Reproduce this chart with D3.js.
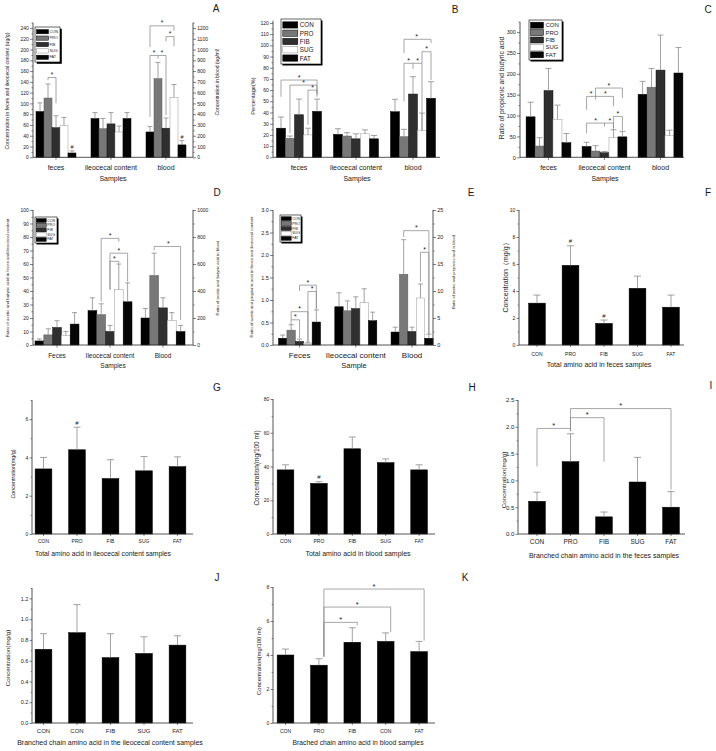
<!DOCTYPE html>
<html><head><meta charset="utf-8">
<script src="https://cdn.jsdelivr.net/npm/d3@7/dist/d3.min.js"></script>
<style>body{margin:0;background:#fff}svg{display:block}</style>
</head><body>
<svg id="chart" width="716" height="751"></svg>
<script>
// ================= DATA =================
const series = ["CON","PRO","FIB","SUG","FAT"];

// Panel A
const groupsA = ["feces","ileocecal content","blood"];
const meanA = [[85,110,55,59,8],[72,53,62,47,72],[235,730,270,555,115]];
const sdA   = [[16,26,22,15,4],[11,19,21,11,11],[50,150,95,120,40]];
const hashA = [[0,0,0,0,1],[0,0,0,0,0],[0,0,0,0,1]];
const rightA = [false,false,true];
const ticksA = [0,20,40,60,80,100,120,140,160,180,200,220,240];
const ticksAR = [0,100,200,300,400,500,600,700,800,900,1000,1100,1200];
const bracketsA = [
  {g:0, xs:[1,2], y:148, legs:[143,100], stars:[1.5]},
  {g:2, xs:[0,3], y:244, legs:[205,235], stars:[1.5]},
  {g:2, xs:[2,3], y:224, legs:[215,206], stars:[2.5]},
  {g:2, xs:[0,1,2], y:189, legs:[75,183,78], stars:[0.5,1.5]}
];

// Panel B
const groupsB = ["feces","ileocecal content","blood"];
const meanB = [[26,17,38,20,41],[20.5,19,16.5,21,16.5],[40.7,18.4,56.5,24,52.7]];
const sdB   = [[10,2,14,6,11],[5,3,4.5,3.5,3],[11.1,6.6,15.5,15.5,14.8]];
const ticksB = [0,10,20,30,40,50,60,70,80,90,100,110,120];
const bracketsB = [
  {g:0, xs:[0,4], y:69, legs:[54,54], stars:[2]},
  {g:0, xs:[1,4], y:64.5, legs:[21.5,56], stars:[2.5]},
  {g:0, xs:[3,4], y:60, legs:[29,57], stars:[3.5]},
  {g:2, xs:[1,4], y:105.4, legs:[93,102], stars:[2.4]},
  {g:2, xs:[3,4], y:94.3, legs:[84,69], stars:[3.5]},
  {g:2, xs:[1,2,3], y:84, legs:[50,79,24], stars:[1.5,2.5]}
];

// Panel C
const groupsC = ["feces","ileocecal content","blood"];
const meanC = [[97,27,160,91,35],[26,15,11,47,49],[151,168,209,52,202]];
const sdC   = [[35,20,53,34,22],[10,13,3,19,13],[31,45,84,13,61]];
const ticksC = [0,50,100,150,200,250,300];
const bracketsC = [
  {g:1, xs:[1,4], y:166, legs:[146,142], stars:[2.5]},
  {g:1, xs:[0,1,3], y:146, legs:[114,138,122], stars:[0.5,2.1]},
  {g:1, xs:[0,2,3], y:82, legs:[58,74,66], stars:[1,2.6]},
  {g:1, xs:[3,4], y:98, legs:[70,64], stars:[3.5]}
];

// Panel D
const groupsD = ["Feces","Ileocecal content","Blood"];
const meanD = [[3,7.5,13,7,15.5],[25.5,22.5,10,41,32],[200,515,275,180,100]];
const sdD   = [[1.5,4.5,5,3,8.5],[9.5,8,4.5,19,14],[70,165,75,60,45]];
const rightD = [false,false,true];
const ticksD = [0,10,20,30,40,50,60,70,80,90,100];
const ticksDR = [0,200,400,600,800,1000];
const bracketsD = [
  {g:1, xs:[1,3], y:79, legs:[32,76.5], stars:[2]},
  {g:1, xs:[2,4], y:68, legs:[41,47], stars:[3]},
  {g:1, xs:[2,3], y:62, legs:[41,60.5], stars:[2.5]},
  {g:2, xs:[1,4], y:73, legs:[70,18.5], stars:[2.6]}
];

// Panel E
const groupsE = ["Feces","Ileocecal content","Blood"];
const meanE = [[0.15,0.33,0.08,0.04,0.51],[0.85,0.76,0.81,0.94,0.54],[2.4,13.1,2.5,8.7,1.25]];
const sdE   = [[0.07,0.12,0.05,0.02,0.27],[0.31,0.22,0.26,0.31,0.19],[0.9,6.4,0.8,2.6,0.75]];
const rightE = [false,false,true];
const ticksE = [0,0.5,1.0,1.5,2.0,2.5,3.0];
const ticksER = [0,5,10,15,20,25];
const bracketsE = [
  {g:0, xs:[2,4], y:1.33, legs:[1.2,0.8], stars:[3]},
  {g:0, xs:[3,4], y:1.19, legs:[0.07,0.8], stars:[3.5]},
  {g:0, xs:[1,3], y:0.74, legs:[0.56,0.07], stars:[2]},
  {g:0, xs:[1,2], y:0.56, legs:[0.46,0.15], stars:[1.5]},
  {g:2, xs:[1,4], y:2.54, legs:[2.4,0.25], stars:[2.5]},
  {g:2, xs:[3,4], y:2.06, legs:[1.4,0.25], stars:[3.5]}
];

// Panels F-K
const catsF = ["CON","PRO","FIB","SUG","FAT"];
const meanF = [3.1,5.9,1.6,4.2,2.8];
const sdF   = [0.6,1.45,0.25,0.9,0.9];
const hashF = [0,1,1,0,0];
const ticksF = [0,2,4,6,8,10];

const catsG = ["CON","PRO","FIB","SUG","FAT"];
const meanG = [3.4,4.4,2.9,3.3,3.52];
const sdG   = [0.6,1.18,0.98,0.75,0.51];
const hashG = [0,1,0,0,0];
const ticksG = [0,2,4,6];

const catsH = ["CON","PRO","FIB","SUG","FAT"];
const meanH = [38,30,50.5,42.3,38];
const sdH   = [3,1,7,2.2,3];
const hashH = [0,1,0,0,0];
const ticksH = [0,20,40,60,80];

const catsI = ["CON","PRO","FIB","SUG","FAT"];
const meanI = [0.61,1.35,0.32,0.97,0.5];
const sdI   = [0.17,0.52,0.09,0.46,0.29];
const ticksI = [0,0.5,1.0,1.5,2.0,2.5];
const bracketsI = [
  {xs:[0,1], y:1.97, legs:[1.26,1.92], stars:[0.5]},
  {xs:[1,2], y:2.17, legs:[1.92,1.35], stars:[1.5]},
  {xs:[1,4], y:2.34, legs:[1.92,0.83], stars:[2.5]}
];

const catsJ = ["CON","CON","FIB","SUG","FAT"];
const meanJ = [0.71,0.87,0.63,0.67,0.75];
const sdJ   = [0.15,0.27,0.23,0.16,0.09];
const ticksJ = [0,0.2,0.4,0.6,0.8,1.0,1.2];

const catsK = ["CON","PRO","FIB","CON","FAT"];
const meanK = [4.0,3.4,4.75,4.8,4.2];
const sdK   = [0.35,0.38,0.85,0.5,0.6];
const ticksK = [0,2,4,6,8];
const bracketsK = [
  {xs:[1.15,2.15], y:5.92, legs:[3.9,5.75], stars:[1.65]},
  {xs:[1.15,3.15], y:6.82, legs:[3.9,5.35], stars:[2.15]},
  {xs:[1.15,4.15], y:7.88, legs:[3.9,4.85], stars:[2.65]}
];

// ================= STYLE / DRAW =================
const svg = d3.select("#chart");
const FONT = '"Liberation Sans", Arial, Helvetica, sans-serif';
const fillOf = {CON:"#000000", PRO:"#787878", FIB:"#2f2f2f", SUG:"#ffffff", FAT:"#060606"};
const strokeOf = {CON:"#000", PRO:"#5a5a5a", FIB:"#111", SUG:"#9a9a9a", FAT:"#000"};
const AX = "#2a2a2a", ERR = "#8a8a8a", BRK = "#8a8a8a", TXT = "#1a1a1a";

function txt(g, x, y, s, fs, o = {}) {
  const t = g.append("text").attr("x", x).attr("y", y).text(s)
    .attr("font-size", fs).attr("font-family", FONT).attr("fill", TXT)
    .attr("text-anchor", o.anchor || "middle");
  if (o.baseline) t.attr("dominant-baseline", o.baseline);
  if (o.rotate) t.attr("transform", `rotate(${o.rotate},${x},${y})`);
  return t;
}
function minorOf(ticks) {
  const st = ticks[1] - ticks[0];
  return ticks.map(v => v + st / 2);
}
function vAxis(g, y, x, ticks, fmt, fs, right, tl) {
  const mk = right ? d3.axisRight : d3.axisLeft;
  const a = g.append("g").attr("transform", `translate(${x},0)`)
    .call(mk(y).tickValues(ticks).tickFormat(d3.format(fmt)).tickSize(tl).tickPadding(1.2));
  a.select(".domain").remove();
  a.selectAll(".tick line").attr("stroke", AX).attr("stroke-width", 0.6);
  a.selectAll(".tick text").attr("font-size", fs).attr("font-family", FONT).attr("fill", TXT);
  const mins = minorOf(ticks).filter(v => v <= y.domain()[1]);
  const m = g.append("g").attr("transform", `translate(${x},0)`)
    .call(mk(y).tickValues(mins).tickFormat(() => "").tickSize(tl * 0.55));
  m.select(".domain").remove();
  m.selectAll(".tick line").attr("stroke", AX).attr("stroke-width", 0.5);
  g.append("line").attr("x1", x).attr("x2", x).attr("y1", y.range()[0]).attr("y2", y.range()[1])
    .attr("stroke", AX).attr("stroke-width", 0.8);
}
function drawBrackets(g, list, px, y, fs) {
  list.forEach(b => {
    const xs = b.xs.map(i => px(b, i));
    const yy = y(b.y);
    g.append("line").attr("x1", d3.min(xs)).attr("x2", d3.max(xs)).attr("y1", yy).attr("y2", yy)
      .attr("stroke", BRK).attr("stroke-width", 0.75);
    b.xs.forEach((i, k) => g.append("line").attr("x1", xs[k]).attr("x2", xs[k])
      .attr("y1", yy).attr("y2", y(b.legs[k])).attr("stroke", BRK).attr("stroke-width", 0.75));
    b.stars.forEach(s => txt(g, px(b, s), yy - 0.4, "*", fs));
  });
}
function legend(L) {
  const g = svg.append("g");
  g.append("rect").attr("x", L.x + L.sh).attr("y", L.y + L.sh).attr("width", L.w).attr("height", L.h).attr("fill", "#000");
  g.append("rect").attr("x", L.x).attr("y", L.y).attr("width", L.w).attr("height", L.h)
    .attr("fill", "#fff").attr("stroke", "#000").attr("stroke-width", 0.6);
  const rh = (L.h - 2 * L.pad) / series.length;
  series.forEach((s, i) => {
    const cy = L.y + L.pad + rh * (i + 0.5);
    g.append("rect").attr("x", L.x + L.pad).attr("y", cy - L.swh / 2).attr("width", L.sww).attr("height", L.swh)
      .attr("fill", fillOf[s]).attr("stroke", s === "SUG" ? "#888" : "#000").attr("stroke-width", 0.5);
    txt(g, L.x + L.pad + L.sww + L.gap, cy, s, L.fs, {anchor: "start", baseline: "central"});
  });
}

function groupedPanel(p) {
  const g = svg.append("g");
  const y = d3.scaleLinear([0, p.yMax], [p.yB, p.yT]);
  const yR = p.rMax ? d3.scaleLinear([0, p.rMax], [p.yB, p.yT]) : null;
  const x0 = d3.scaleBand(p.groups, p.xr).paddingInner(p.pi).paddingOuter(p.pi / 2);
  const x1 = d3.scaleBand(series, [0, x0.bandwidth()]);
  const bw = x1.bandwidth();
  const recs = [];
  p.mean.forEach((row, gi) => row.forEach((v, si) => recs.push({
    gi, si, v, sd: p.sd[gi][si], h: p.hash ? p.hash[gi][si] : 0,
    sc: (p.right && p.right[gi]) ? yR : y })));
  const bx = d => x0(p.groups[d.gi]) + x1(series[d.si]);
  g.selectAll("rect.bar").data(recs).join("rect").attr("class", "bar")
    .attr("x", bx).attr("y", d => d.sc(d.v)).attr("width", bw).attr("height", d => d.sc(0) - d.sc(d.v))
    .attr("fill", d => fillOf[series[d.si]]).attr("stroke", d => strokeOf[series[d.si]]).attr("stroke-width", 0.5);
  g.selectAll("line.eb").data(recs).join("line").attr("class", "eb")
    .attr("x1", d => bx(d) + bw / 2).attr("x2", d => bx(d) + bw / 2)
    .attr("y1", d => d.sc(d.v)).attr("y2", d => d.sc(d.v + d.sd)).attr("stroke", ERR).attr("stroke-width", 0.8);
  g.selectAll("line.cap").data(recs).join("line").attr("class", "cap")
    .attr("x1", d => bx(d) + bw / 2 - p.cap / 2).attr("x2", d => bx(d) + bw / 2 + p.cap / 2)
    .attr("y1", d => d.sc(d.v + d.sd)).attr("y2", d => d.sc(d.v + d.sd)).attr("stroke", ERR).attr("stroke-width", 0.8);
  recs.filter(d => d.h).forEach(d => txt(g, bx(d) + bw / 2, d.sc(d.v + d.sd) - 2, "#", p.hashFs || 5.5));
  vAxis(g, y, p.axL, p.yTicks, p.fmt, p.tickFs, false, 3);
  if (yR) vAxis(g, yR, p.axR, p.rTicks, p.rFmt, p.tickFs, true, 3);
  g.append("line").attr("x1", p.axL).attr("x2", p.axR).attr("y1", p.yB).attr("y2", p.yB)
    .attr("stroke", AX).attr("stroke-width", 0.8);
  g.selectAll("line.xt").data(p.groups).join("line").attr("class", "xt")
    .attr("x1", d => x0(d) + x0.bandwidth() / 2).attr("x2", d => x0(d) + x0.bandwidth() / 2)
    .attr("y1", p.yB).attr("y2", p.yB + 2.5).attr("stroke", AX).attr("stroke-width", 0.6);
  p.groups.forEach(gn => txt(g, x0(gn) + x0.bandwidth() / 2, p.catY, gn, p.catFs));
  txt(g, p.xtX, p.xtY, p.xTitle, p.xtFs);
  txt(g, p.ytX, p.ytY, p.yTitle, p.ytFs, {rotate: -90, baseline: "central"});
  if (p.rTitle) txt(g, p.rtX, p.rtY, p.rTitle, p.rtFs, {rotate: -90, baseline: "central"});
  drawBrackets(g, p.brackets || [], (b, i) => x0(p.groups[b.g]) + bw * (i + 0.5), y, p.starFs || 7);
  legend(p.legend);
  txt(svg, p.lab[0], p.lab[1], p.lab[2], 10);
}

function simplePanel(p) {
  const g = svg.append("g");
  const y = d3.scaleLinear([0, p.yMax], [p.yB, p.yT]);
  const idx = d3.range(p.cats.length);
  const x = d3.scaleBand(idx, [p.c0 - p.step / 2, p.c0 + p.step * (idx.length - 0.5)])
    .paddingInner(0.5).paddingOuter(0.25);
  const bw = x.bandwidth();
  const recs = p.mean.map((v, i) => ({i, v, sd: p.sd[i], h: p.hash ? p.hash[i] : 0}));
  g.selectAll("rect.bar").data(recs).join("rect").attr("class", "bar")
    .attr("x", d => x(d.i)).attr("y", d => y(d.v)).attr("width", bw).attr("height", d => y(0) - y(d.v))
    .attr("fill", "#000").attr("stroke", "#000").attr("stroke-width", 0.5);
  g.selectAll("line.eb").data(recs).join("line").attr("class", "eb")
    .attr("x1", d => x(d.i) + bw / 2).attr("x2", d => x(d.i) + bw / 2)
    .attr("y1", d => y(d.v)).attr("y2", d => y(d.v + d.sd)).attr("stroke", ERR).attr("stroke-width", 0.8);
  g.selectAll("line.cap").data(recs).join("line").attr("class", "cap")
    .attr("x1", d => x(d.i) + bw / 2 - 3.5).attr("x2", d => x(d.i) + bw / 2 + 3.5)
    .attr("y1", d => y(d.v + d.sd)).attr("y2", d => y(d.v + d.sd)).attr("stroke", ERR).attr("stroke-width", 0.8);
  recs.filter(d => d.h).forEach(d => txt(g, x(d.i) + bw / 2, y(d.v + d.sd) - 2.5, "#", 6));
  vAxis(g, y, p.axL, p.yTicks, p.fmt, p.tickFs, false, 2.5);
  g.append("line").attr("x1", p.axL).attr("x2", p.axR).attr("y1", p.yB).attr("y2", p.yB)
    .attr("stroke", AX).attr("stroke-width", 0.8);
  g.selectAll("line.xt").data(idx).join("line").attr("class", "xt")
    .attr("x1", d => x(d) + bw / 2).attr("x2", d => x(d) + bw / 2)
    .attr("y1", p.yB).attr("y2", p.yB + 2).attr("stroke", AX).attr("stroke-width", 0.6);
  idx.forEach(i => txt(g, x(i) + bw / 2, p.catY, p.cats[i], p.catFs));
  txt(g, p.xtX, p.xtY, p.xTitle, p.xtFs);
  txt(g, p.ytX, p.ytY, p.yTitle, p.ytFs, {rotate: -90, baseline: "central"});
  drawBrackets(g, p.brackets || [], (b, i) => x(0) + bw / 2 + i * x.step(), y, 7.5);
  if (p.lab) txt(svg, p.lab[0], p.lab[1], p.lab[2], 10);
}

// ---- grouped panels
groupedPanel({groups: groupsA, mean: meanA, sd: sdA, hash: hashA, right: rightA, brackets: bracketsA,
  xr: [28.5, 193.5], pi: 0.273, yMax: 250, yB: 157.3, yT: 22.6, axL: 33, axR: 193,
  yTicks: ticksA, fmt: "d", rMax: 1250, rTicks: ticksAR, rFmt: "d", tickFs: 5, cap: 5,
  catY: 170, catFs: 7, xTitle: "Samples", xtX: 113, xtY: 180.5, xtFs: 7,
  yTitle: "Concentration in feces and ileocecal content (ug/g)", ytX: 7, ytY: 91, ytFs: 5.2,
  rTitle: "Concentration in blood (ug/ml)", rtX: 217, rtY: 82, rtFs: 5,
  legend: {x: 35, y: 27, w: 25, h: 35, sh: 1.8, pad: 1.5, sww: 12, swh: 4.2, gap: 1, fs: 3.8},
  starFs: 6.5, lab: [216, 12, "A"]});

groupedPanel({groups: groupsB, mean: meanB, sd: sdB, brackets: bracketsB,
  xr: [270.5, 441.5], pi: 0.21, yMax: 122, yB: 157.3, yT: 20.7, axL: 273, axR: 440,
  yTicks: ticksB, fmt: "d", tickFs: 5, cap: 6,
  catY: 169.5, catFs: 7, xTitle: "Samples", xtX: 357, xtY: 180.5, xtFs: 7,
  yTitle: "Percentage(%)", ytX: 253, ytY: 96, ytFs: 5.6,
  legend: {x: 281, y: 19, w: 40, h: 45, sh: 1.5, pad: 1.8, sww: 15, swh: 6.3, gap: 2, fs: 6.3},
  lab: [455, 13, "B"]});

groupedPanel({groups: groupsC, mean: meanC, sd: sdC, brackets: bracketsC,
  xr: [520.5, 688.5], pi: 0.2, yMax: 325, yB: 157.3, yT: 21.7, axL: 520, axR: 684,
  yTicks: ticksC, fmt: "d", tickFs: 5.5, cap: 6,
  catY: 169.5, catFs: 7, xTitle: "Samples", xtX: 605, xtY: 180.5, xtFs: 7,
  yTitle: "Ratio of propionic and butyric acid", ytX: 501, ytY: 88, ytFs: 6.8,
  legend: {x: 529, y: 20, w: 33, h: 40, sh: 1.5, pad: 1.5, sww: 13, swh: 6, gap: 2, fs: 6},
  lab: [708, 13, "C"]});

groupedPanel({groups: groupsD, mean: meanD, sd: sdD, right: rightD, brackets: bracketsD,
  xr: [30.5, 189.5], pi: 0.17, yMax: 100, yB: 345, yT: 210, axL: 33, axR: 193,
  yTicks: ticksD, fmt: "d", rMax: 1000, rTicks: ticksDR, rFmt: "d", tickFs: 5, cap: 5,
  catY: 357.5, catFs: 6.5, xTitle: "Samples", xtX: 113, xtY: 367.5, xtFs: 6.5,
  yTitle: "Ratio of acetic and butyric acid in feces and ileocecal content", ytX: 7, ytY: 278, ytFs: 4.4,
  rTitle: "Ratio of acetic and butyric acid in blood", rtX: 217, rtY: 278, rtFs: 4.3,
  legend: {x: 35, y: 217, w: 22, h: 26, sh: 1.5, pad: 1.2, sww: 10, swh: 3.8, gap: 1, fs: 3.6},
  lab: [217, 196, "D"]});

groupedPanel({groups: groupsE, mean: meanE, sd: sdE, right: rightE, brackets: bracketsE,
  xr: [271.4, 440.2], pi: 0.253, yMax: 3, yB: 345, yT: 210, axL: 273, axR: 433,
  yTicks: ticksE, fmt: ".1f", rMax: 25, rTicks: ticksER, rFmt: "d", tickFs: 5.5, cap: 5,
  catY: 357.5, catFs: 8, xTitle: "Sample", xtX: 354, xtY: 367.5, xtFs: 7.5,
  yTitle: "Ratio of acetic and propionic acid in feces and ileocecal content", ytX: 251, ytY: 277, ytFs: 4.3,
  rTitle: "Ratio of acetic and propionic acid in blood", rtX: 453, rtY: 272, rtFs: 4,
  legend: {x: 280, y: 215, w: 21, h: 27, sh: 1.5, pad: 1.2, sww: 10, swh: 3.8, gap: 1, fs: 3.6},
  lab: [471, 196, "E"]});

// ---- simple panels
simplePanel({cats: catsF, mean: meanF, sd: sdF, hash: hashF, c0: 537, step: 33.5,
  yMax: 10, yB: 345, yT: 210, axL: 519, axR: 684, yTicks: ticksF, fmt: "d", tickFs: 5,
  catY: 356, catFs: 5, xTitle: "Total amino acid in feces samples", xtX: 599, xtY: 366.5, xtFs: 7,
  yTitle: "Concentration（mg/g）", ytX: 505, ytY: 276, ytFs: 7, lab: [708, 196, "F"]});

simplePanel({cats: catsG, mean: meanG, sd: sdG, hash: hashG, c0: 43.5, step: 33.5,
  yMax: 7, yB: 534, yT: 400, axL: 32, axR: 193, yTicks: ticksG, fmt: "d", tickFs: 5,
  catY: 543, catFs: 5, xTitle: "Total amino acid in ileocecal content samples", xtX: 103, xtY: 555.5, xtFs: 6.8,
  yTitle: "Concentration(mg/g)", ytX: 13, ytY: 474, ytFs: 5.4, lab: [217, 391, "G"]});

simplePanel({cats: catsH, mean: meanH, sd: sdH, hash: hashH, c0: 285.5, step: 33.4,
  yMax: 80, yB: 534, yT: 399, axL: 273, axR: 435, yTicks: ticksH, fmt: "d", tickFs: 5,
  catY: 543, catFs: 5, xTitle: "Total amino acid in blood samples", xtX: 358, xtY: 555.5, xtFs: 7,
  yTitle: "Concentration(mg/100 ml)", ytX: 256, ytY: 468, ytFs: 6.5, lab: [472, 391, "H"]});

simplePanel({cats: catsI, mean: meanI, sd: sdI, brackets: bracketsI, c0: 537, step: 33.5,
  yMax: 2.5, yB: 534, yT: 400, axL: 518, axR: 685, yTicks: ticksI, fmt: ".1f", tickFs: 6,
  catY: 543.5, catFs: 6.5, xTitle: "Branched chain amino acid in the feces samples", xtX: 604, xtY: 558, xtFs: 7,
  yTitle: "Concentration(mg/g)", ytX: 503, ytY: 480, ytFs: 6.2, lab: [711, 389, "I"]});

simplePanel({cats: catsJ, mean: meanJ, sd: sdJ, c0: 43.5, step: 33.5,
  yMax: 1.3, yB: 723, yT: 588, axL: 32, axR: 193, yTicks: ticksJ, fmt: ".1f", tickFs: 5.5,
  catY: 732.5, catFs: 6, xTitle: "Branched chain amino acid in the ileocecal content samples", xtX: 110, xtY: 744.5, xtFs: 7,
  yTitle: "Concentration(mg/g)", ytX: 7, ytY: 658, ytFs: 6.2, lab: [217, 581, "J"]});

simplePanel({cats: catsK, mean: meanK, sd: sdK, brackets: bracketsK, c0: 285.5, step: 33.4,
  yMax: 8, yB: 723, yT: 587, axL: 273, axR: 435, yTicks: ticksK, fmt: "d", tickFs: 5,
  catY: 732.5, catFs: 5, xTitle: "Brached chain amino acid in blood samples", xtX: 358, xtY: 745, xtFs: 6.8,
  yTitle: "Concentration(mg/100 ml)", ytX: 259, ytY: 661, ytFs: 5.9, lab: [465, 581, "K"]});
</script>
</body></html>
